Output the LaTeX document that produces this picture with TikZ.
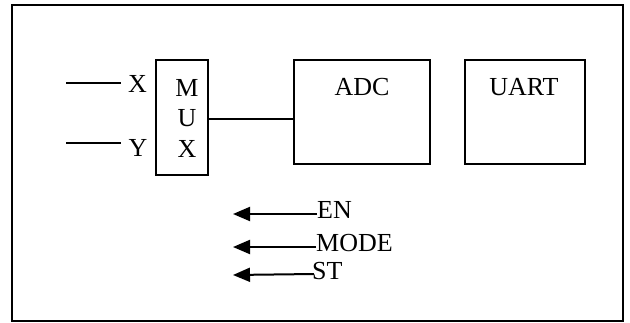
\documentclass[tikz,border=0pt]{standalone}
\usepackage{fontspec}
\setmainfont{Liberation Serif}
\usetikzlibrary{arrows.meta}
\begin{document}
\begin{tikzpicture}[x=1pt,y=-1pt,
  blk/.style={draw,line width=1.3pt,inner sep=0pt,minimum width=#1},
  txt/.style={inner sep=0pt,anchor=base,font=\fontsize{26}{30}\selectfont},
  ltxt/.style={inner sep=0pt,anchor=base west,font=\fontsize{26}{30}\selectfont},
  wire/.style={line width=1.3pt},
  sig/.style={line width=2pt,-{Triangle[length=17pt,width=14pt]}}]
\useasboundingbox (0,0) rectangle (630,322);
\node[draw,line width=2.2pt,inner sep=0pt,minimum width=611pt,minimum height=316pt] (frame) at (317.5,163) {};
% MUX
\node[blk=52pt,minimum height=115pt] (mux) at (182,117.5) {};
\node[txt] (m1) at (187,96) {M};
\node[txt] (m2) at (187,126) {U};
\node[txt] (m3) at (187,157) {X};
% ADC, UART
\node[blk=136pt,minimum height=104pt] (adc) at (362,112) {};
\node[txt] (adct) at (362,95) {ADC};
\node[blk=120pt,minimum height=104pt] (uart) at (525,112) {};
\node[txt] (uartt) at (524,95) {UART};
% inputs
\coordinate (xa) at (66,83);
\coordinate (xb) at (121,83);
\coordinate (ya) at (66,143);
\coordinate (yb) at (121,143);
\draw[wire] (xa) -- (xb);
\draw[wire] (ya) -- (yb);
\node[txt] (xl) at (137.5,92) {X};
\node[txt] (yl) at (138,156) {Y};
% MUX to ADC
\coordinate (mc) at (200,119);
\draw[wire] (mux.east |- mc) -- (adc.west |- mc);
% control signals
\node[ltxt] (en) at (317,218) {EN};
\node[ltxt] (mode) at (316,251) {MODE};
\node[ltxt] (st) at (312,279) {ST};
\coordinate (en0) at (317,214);
\coordinate (en1) at (233,214);
\coordinate (mo0) at (316,247);
\coordinate (mo1) at (233,247);
\coordinate (st0) at (314,274);
\coordinate (st1) at (233,275);
\draw[sig] (en0) -- (en1);
\draw[sig] (mo0) -- (mo1);
\draw[sig] (st0) -- (st1);
\end{tikzpicture}
\end{document}
